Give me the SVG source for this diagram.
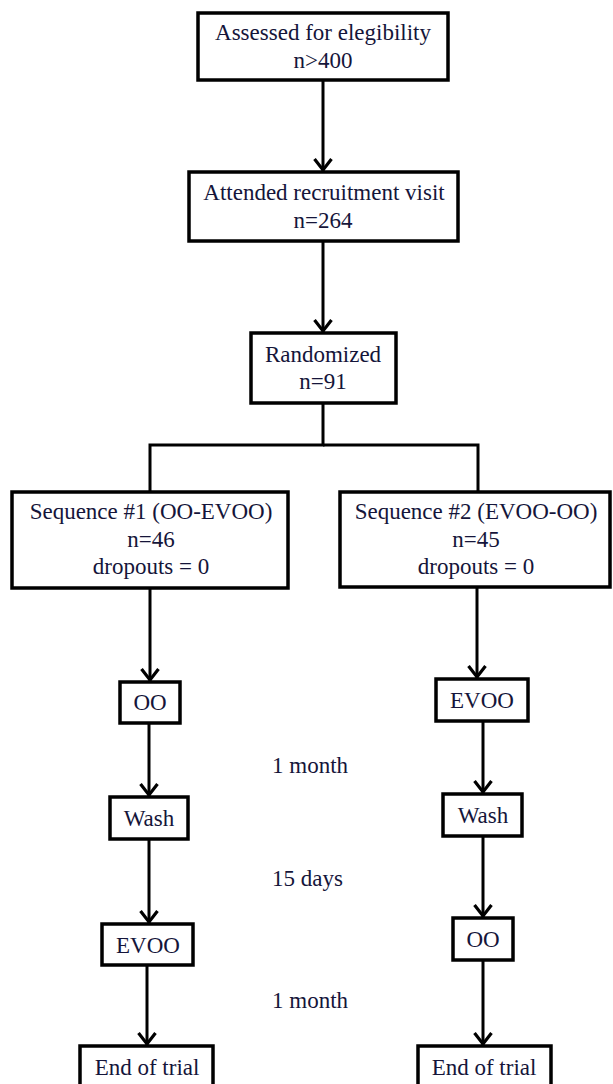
<svg xmlns="http://www.w3.org/2000/svg" width="613" height="1084" viewBox="0 0 613 1084">
<style>
.box{fill:#fff;stroke:#000;stroke-width:3.5}
.t{font-family:"Liberation Serif","Times New Roman",serif;font-size:23px;fill:#15153a;text-anchor:middle}
.l{font-family:"Liberation Serif","Times New Roman",serif;font-size:23px;fill:#15153a}
.c{fill:none;stroke:#000;stroke-width:3}
</style>
<defs>
<marker id="ah" viewBox="-14 -11 16 22" refX="0" refY="0" markerWidth="16" markerHeight="22" orient="auto" markerUnits="userSpaceOnUse">
<path d="M-12,-8.5 L-1,0 L-12,8.5" fill="none" stroke="#000" stroke-width="3.2"/>
</marker>
</defs>
<rect width="613" height="1084" fill="#fff"/>
<g id="connectors">
<line class="c" x1="323" y1="80" x2="323" y2="171" marker-end="url(#ah)"/>
<line class="c" x1="323" y1="241" x2="323" y2="332" marker-end="url(#ah)"/>
<polyline class="c" points="323,403 323,445 150,445 150,492"/>
<polyline class="c" points="323,445 478,445 478,492"/>
<line class="c" x1="150" y1="588" x2="150" y2="681" marker-end="url(#ah)"/>
<line class="c" x1="149" y1="723" x2="149" y2="796" marker-end="url(#ah)"/>
<line class="c" x1="149" y1="839" x2="149" y2="923" marker-end="url(#ah)"/>
<line class="c" x1="147" y1="965" x2="147" y2="1045" marker-end="url(#ah)"/>
<line class="c" x1="477" y1="588" x2="477" y2="678" marker-end="url(#ah)"/>
<line class="c" x1="483" y1="721" x2="483" y2="793" marker-end="url(#ah)"/>
<line class="c" x1="483" y1="836" x2="483" y2="917" marker-end="url(#ah)"/>
<line class="c" x1="483" y1="960" x2="483" y2="1045" marker-end="url(#ah)"/>
</g>
<g id="assessed">
<rect class="box" x="198" y="13" width="250" height="67"/>
<text class="t" x="323" y="40">Assessed for elegibility</text>
<text class="t" x="323" y="68">n&gt;400</text>
</g>
<g id="attended">
<rect class="box" x="189" y="172" width="269" height="69"/>
<text class="t" x="324" y="200">Attended recruitment visit</text>
<text class="t" x="323" y="228">n=264</text>
</g>
<g id="randomized">
<rect class="box" x="251" y="333" width="145" height="70"/>
<text class="t" x="323" y="362">Randomized</text>
<text class="t" x="323" y="389">n=91</text>
</g>
<g id="seq1">
<rect class="box" x="12" y="492" width="276" height="96"/>
<text class="t" x="151" y="519">Sequence #1 (OO-EVOO)</text>
<text class="t" x="151" y="547">n=46</text>
<text class="t" x="151" y="574">dropouts = 0</text>
</g>
<g id="seq2">
<rect class="box" x="340" y="492" width="270" height="95"/>
<text class="t" x="476" y="519">Sequence #2 (EVOO-OO)</text>
<text class="t" x="476" y="547">n=45</text>
<text class="t" x="476" y="574">dropouts = 0</text>
</g>
<g id="oo1">
<rect class="box" x="120" y="682" width="60" height="41"/>
<text class="t" x="150" y="710">OO</text>
</g>
<g id="wash1">
<rect class="box" x="110" y="797" width="78" height="42"/>
<text class="t" x="149" y="826">Wash</text>
</g>
<g id="evoo1">
<rect class="box" x="102" y="924" width="91" height="41"/>
<text class="t" x="148" y="953">EVOO</text>
</g>
<g id="end1">
<rect class="box" x="80" y="1046" width="133" height="45"/>
<text class="t" x="147" y="1075">End of trial</text>
</g>
<g id="evoo2">
<rect class="box" x="436" y="679" width="92" height="42"/>
<text class="t" x="482" y="708">EVOO</text>
</g>
<g id="wash2">
<rect class="box" x="443" y="794" width="79" height="42"/>
<text class="t" x="483" y="823">Wash</text>
</g>
<g id="oo2">
<rect class="box" x="453" y="918" width="60" height="42"/>
<text class="t" x="483" y="947">OO</text>
</g>
<g id="end2">
<rect class="box" x="418" y="1046" width="133" height="45"/>
<text class="t" x="484" y="1075">End of trial</text>
</g>
<g id="labels">
<text class="l" x="272" y="773">1 month</text>
<text class="l" x="272" y="886">15 days</text>
<text class="l" x="272" y="1008">1 month</text>
</g>
</svg>
